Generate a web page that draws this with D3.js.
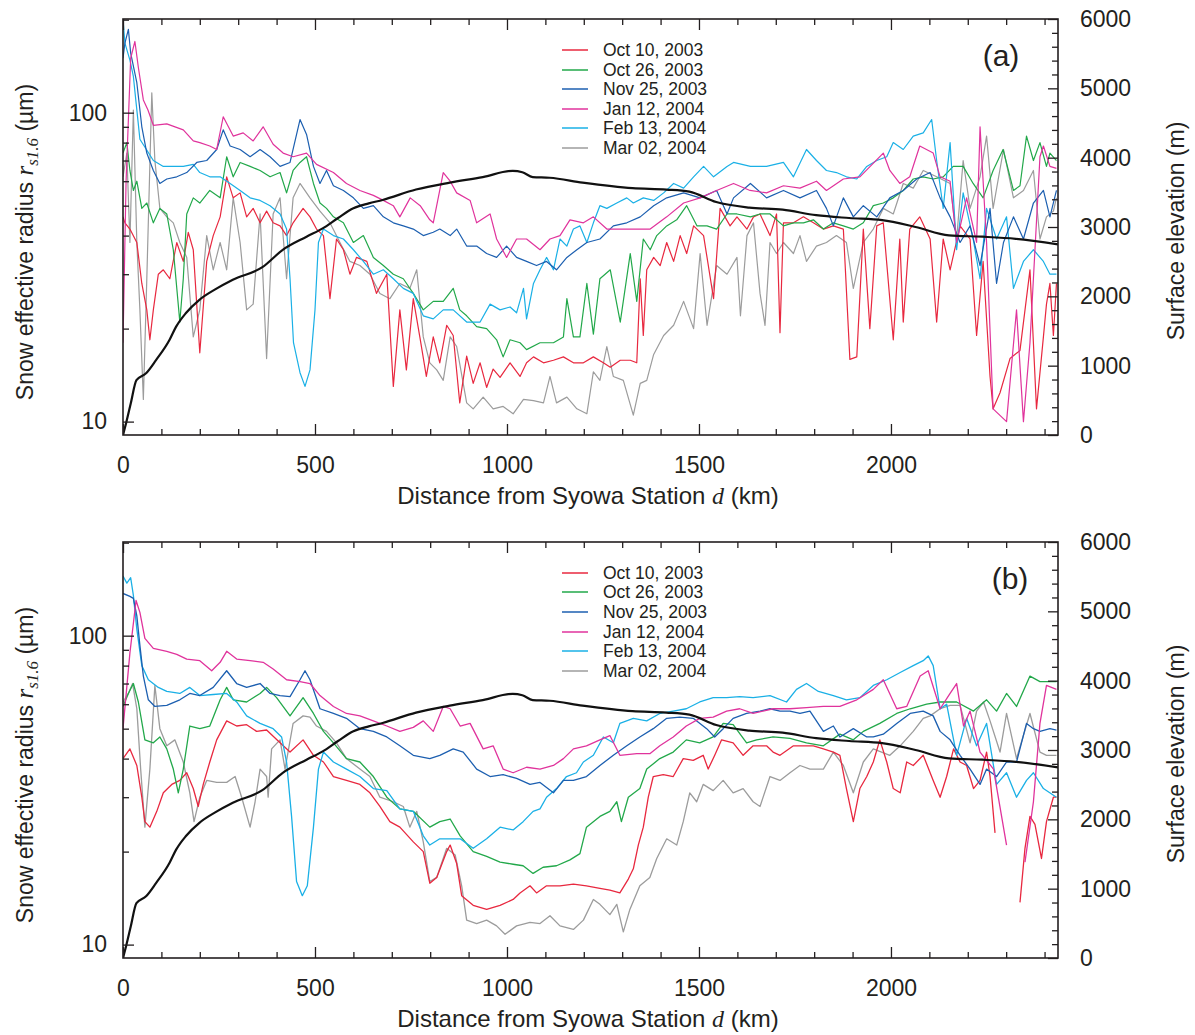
<!DOCTYPE html>
<html><head><meta charset="utf-8">
<script src="https://cdn.jsdelivr.net/npm/d3@7"></script>
<style>
body{margin:0;background:#fff}
svg{display:block}
text{font-family:"Liberation Sans",Arial,sans-serif;fill:#231f20}
</style>
</head><body>
<svg id="c" width="1195" height="1035"></svg>
<script>
// ---------- DATA (distance km, value) ----------
const seriesNames = ["Oct 10, 2003","Oct 26, 2003","Nov 25, 2003","Jan 12, 2004","Feb 13, 2004","Mar 02, 2004"];
const seriesColors = ["#e8283f","#22a84a","#1c5fb0","#e0339c","#1ab0e6","#9c9c9c"];
const xMajorTicks = [0,500,1000,1500,2000];
const yMajorTicks = [10,100];
const yMinorTicks = [20,30,40,50,60,70,80,90,200];
const elevTicks = [0,1000,2000,3000,4000,5000,6000];

const elevation = [[0,0],[8,170],[20,450],[35,790],[60,890],[86,1080],[121,1370],[138,1560],[164,1760],[199,1950],[240,2100],[286,2240],[363,2420],[416,2670],[478,2860],[520,2980],[560,3130],[600,3270],[640,3340],[676,3390],[763,3540],[851,3640],[937,3720],[1015,3810],[1040,3790],[1067,3720],[1111,3710],[1197,3640],[1327,3560],[1415,3540],[1475,3510],[1545,3360],[1631,3280],[1718,3250],[1805,3170],[1891,3130],[1977,3100],[2064,3000],[2151,2880],[2238,2860],[2325,2830],[2435,2750]];

// panel (a): original retrievals
const oct10a = [[0,46],[5,44],[18,42],[36,38],[49,28],[62,23],[70,18.4],[79,23],[92,30],[105,31],[122,29],[140,38],[157,33],[170,41],[183,36],[200,16.7],[218,33],[235,40],[253,46],[270,62],[287,53],[305,55],[322,46],[339,49],[357,44],[374,48],[391,44],[409,43],[426,40],[443,44],[469,49],[487,46],[504,42],[522,40],[539,25],[556,39],[574,36],[591,30],[608,34],[635,33],[660,26],[687,30],[704,13],[721,23],[738,14.7],[756,25],[773,18.8],[790,14],[808,18.8],[825,15.5],[843,20.5],[860,19],[877,11.5],[895,16.3],[912,13.3],[930,15.5],[947,12.9],[964,14.8],[982,13.9],[1008,15.5],[1034,14],[1051,15.5],[1069,16.2],[1095,15.5],[1121,15.8],[1147,16.2],[1173,15.5],[1199,15.5],[1225,16.2],[1251,15.5],[1269,15],[1295,15.8],[1321,15.8],[1338,15.5],[1347,29],[1355,19],[1364,31],[1382,34],[1399,32],[1416,38],[1434,33],[1451,40],[1468,35],[1486,43],[1512,40],[1538,25],[1555,49],[1581,43],[1599,46],[1625,42],[1642,46],[1659,47],[1685,40],[1702,47],[1711,19.4],[1720,44],[1746,44],[1772,46],[1798,44],[1824,42],[1850,43],[1876,42],[1893,15.9],[1911,16.2],[1928,42],[1945,20],[1963,43],[1980,44],[2006,18.4],[2023,39],[2032,21],[2049,42],[2075,46],[2102,39],[2119,21],[2136,39],[2154,31],[2180,43],[2206,39],[2223,19],[2240,33],[2258,14],[2266,11],[2284,12.4],[2310,16],[2336,17],[2362,31],[2379,11],[2397,18.8],[2405,24],[2414,28],[2423,19],[2431,28]];
const oct26a = [[0,74],[10,80],[18,65],[27,56],[36,60],[49,49],[62,51],[79,44],[96,49],[114,47],[131,36],[148,21],[157,29],[166,47],[183,53],[200,51],[226,56],[253,53],[270,72],[287,62],[305,69],[331,67],[357,65],[383,62],[409,64],[426,55],[443,65],[461,69],[478,72],[496,59],[513,51],[530,49],[548,46],[574,44],[600,38],[626,40],[652,34],[678,32],[704,30],[730,29],[756,26],[782,23],[808,24.5],[834,24.5],[860,27],[877,23],[895,22],[921,20.3],[947,20],[973,18.4],[990,16.2],[1008,18.4],[1034,18],[1051,17.1],[1086,18],[1121,18],[1147,18.8],[1156,25],[1173,18.8],[1190,18.8],[1208,28],[1225,19.2],[1242,29],[1269,31],[1295,21],[1321,35],[1338,24.5],[1355,39],[1373,36],[1390,40],[1416,43],[1442,45],[1468,50],[1495,43],[1521,43],[1546,42],[1573,47],[1599,47],[1634,46],[1659,47],[1685,47],[1720,43],[1746,44],[1772,44],[1798,45],[1824,42],[1850,44],[1876,43],[1902,42],[1928,44],[1954,50],[1980,51],[2006,53],[2032,56],[2058,61],[2084,62],[2110,61],[2136,62],[2162,67],[2188,67],[2214,59],[2240,53],[2266,65],[2292,76],[2319,56],[2336,58],[2353,84],[2371,70],[2388,80],[2405,67],[2414,74],[2431,70]];
const nov25a = [[0,150],[5,168],[14,186],[20,156],[36,125],[49,90],[62,74],[79,65],[96,59],[114,61],[140,62],[166,64],[192,69],[218,70],[244,76],[261,88],[279,78],[305,76],[331,72],[357,76],[383,72],[409,67],[435,69],[461,95],[478,85],[496,67],[513,59],[530,65],[548,58],[574,56],[600,53],[626,49],[652,50],[678,46],[704,44],[730,43],[756,42],[782,40],[808,41],[825,42],[852,40],[869,42],[895,37],[921,37],[947,35],[973,34],[999,37],[1025,34],[1051,33],[1077,32],[1103,33],[1129,31],[1156,34],[1182,36],[1208,38],[1242,39],[1277,43],[1312,44],[1347,46],[1382,50],[1416,53],[1460,55],[1503,53],[1546,56],[1573,47],[1590,53],[1634,59],[1676,53],[1720,56],[1763,53],[1806,56],[1832,49],[1850,43],[1876,53],[1902,46],[1928,50],[1963,46],[1997,53],[2032,56],[2067,61],[2102,64],[2128,53],[2154,46],[2180,38],[2206,43],[2232,32],[2258,49],[2275,28],[2293,38],[2319,46],[2345,39],[2371,51],[2397,56],[2414,46],[2431,56]];
const jan12a = [[0,18],[8,60],[20,150],[31,170],[40,140],[53,110],[65,102],[79,91],[114,92],[157,88],[183,81],[200,80],[226,78],[244,76],[261,97],[287,84],[313,86],[339,81],[365,90],[391,79],[417,74],[443,72],[478,74],[504,68],[548,64],[582,59],[617,56],[652,54],[678,52],[704,50],[721,46],[748,53],[774,50],[799,45],[808,44],[834,64],[852,60],[869,55],[904,52],[921,44],[956,47],[973,39],[999,34],[1025,39],[1051,39],[1086,36],[1112,39],[1138,40],[1164,45],[1199,44],[1225,46],[1260,42],[1295,42],[1329,42],[1373,42],[1416,46],[1460,51],[1503,53],[1546,56],[1590,59],[1633,56],[1676,55],[1720,58],[1763,57],[1806,60],[1832,56],[1876,61],[1919,62],[1980,74],[1997,65],[2023,59],[2049,62],[2075,78],[2110,74],[2128,62],[2154,60],[2171,38],[2197,53],[2223,38],[2232,90],[2249,38],[2266,11],[2301,10],[2327,23],[2345,10],[2362,18],[2388,72],[2397,78],[2414,67],[2431,66]];
const feb13a = [[0,200],[5,168],[18,148],[27,131],[35,105],[44,82],[61,76],[79,70],[105,67],[131,67],[157,67],[183,68],[200,64],[226,62],[253,62],[279,59],[305,56],[331,53],[357,52],[383,50],[409,47],[426,42],[435,29],[444,18],[461,14.4],[474,13],[487,14.7],[500,23],[509,38],[522,42],[548,40],[574,39],[600,36],[626,33],[652,30],[678,31],[704,29],[730,27],[756,26],[782,22],[808,21.5],[834,23],[860,23],[895,21],[930,21],[956,24],[982,23],[1008,23.5],[1025,22.5],[1043,27],[1051,21.5],[1069,28],[1086,31],[1103,34],[1121,31],[1138,39],[1156,37],[1173,42],[1190,43],[1208,38],[1225,44],[1242,50],[1260,49],[1286,51],[1312,53],[1329,51],[1355,53],[1382,52],[1408,55],[1434,59],[1460,57],[1486,62],[1512,67],[1538,62],[1573,67],[1590,69],[1634,67],[1676,67],[1720,69],[1746,62],[1780,76],[1806,70],[1832,65],[1858,64],[1884,62],[1911,61],[1937,67],[1963,70],[1989,72],[2006,80],[2032,76],[2058,84],[2084,86],[2106,95],[2119,70],[2136,49],[2154,80],[2171,36],[2188,55],[2214,39],[2232,29],[2249,49],[2275,39],[2301,46],[2319,27],[2345,33],[2371,36],[2397,33],[2414,30],[2431,30]];
const mar02a = [[0,62],[10,74],[18,38],[27,102],[36,38],[44,23],[53,11.8],[62,29],[75,116],[83,70],[96,49],[114,46],[131,44],[148,38],[166,34],[183,18.8],[200,23],[218,40],[235,31],[253,38],[270,31],[287,53],[305,38],[322,23],[339,24],[357,47],[374,16],[391,47],[409,53],[426,29],[443,53],[461,59],[487,53],[513,48],[539,44],[565,38],[591,33],[617,32],[643,30],[669,26],[695,25],[721,28],[747,27],[765,31],[782,18.8],[799,15.5],[817,14.7],[834,13.6],[852,18.8],[869,17.5],[895,11.5],[912,11],[938,12],[964,11],[990,11.2],[1016,10.6],[1043,11.8],[1069,11.7],[1095,11.5],[1112,14],[1129,11.5],[1156,12],[1182,11],[1208,10.6],[1225,14.5],[1242,13.6],[1260,17.5],[1277,14],[1303,13.6],[1329,10.5],[1347,13.3],[1364,13.6],[1382,16.5],[1408,19],[1434,20.5],[1460,24.5],[1486,20],[1503,35],[1521,20.5],[1546,32],[1573,30],[1599,34],[1608,22],[1625,40],[1642,44],[1659,26],[1672,20.5],[1685,38],[1702,35],[1720,38],[1746,35],[1763,40],[1780,33],[1806,37],[1832,38],[1858,40],[1884,38],[1902,27],[1928,38],[1954,42],[1980,49],[2006,47],[2032,59],[2058,57],[2084,65],[2119,62],[2154,59],[2171,39],[2188,70],[2206,49],[2232,62],[2249,84],[2266,49],[2293,76],[2319,53],[2345,56],[2371,65],[2388,39],[2405,46],[2423,48],[2431,53]];

// panel (b): smoothed retrievals
const oct10b = [[0,40],[18,43],[36,38],[49,30],[57,25],[70,24],[88,27],[105,31],[127,33],[148,34],[166,36],[183,32],[196,28],[209,33],[226,39],[244,46],[270,53],[296,51],[322,51.5],[348,49],[374,49.5],[409,45],[435,42],[469,46],[496,41],[522,39],[548,35],[582,34],[617,33],[643,31],[669,28],[695,25],[721,24],[756,21.5],[782,20],[799,15.8],[817,16.5],[843,20],[852,21],[869,18.3],[882,14.4],[912,13.4],[947,13],[982,13.4],[1016,14],[1034,14.7],[1060,15.5],[1077,14.7],[1103,15.5],[1138,15.5],[1173,15.7],[1207,15.5],[1242,15.2],[1268,15],[1294,14.7],[1316,16.3],[1329,17.6],[1342,21],[1355,24],[1368,30],[1381,35],[1407,35.5],[1433,35],[1459,40],[1485,39.5],[1511,41],[1524,37],[1541,41],[1559,46],[1589,45],[1615,41],[1641,44],[1676,44],[1693,42],[1711,41],[1746,44],[1798,44],[1824,43],[1850,42],[1867,41],[1884,32],[1902,25],[1919,32],[1937,35],[1954,39],[1971,46],[1989,39],[2006,32],[2024,31],[2041,39],[2058,38],[2084,41],[2110,34],[2128,30],[2145,35],[2163,43],[2180,39],[2197,38],[2215,32],[2232,34],[2249,42],[2258,35],[2271,23],[2300,null],[2336,13.7],[2349,20.5],[2362,26],[2375,24.5],[2392,19],[2405,25],[2423,30],[2431,30]];
const oct26b = [[0,59],[14,65],[27,70],[40,61],[57,46],[79,45],[96,47],[114,43],[131,37],[144,31],[157,37],[174,51],[200,50],[226,51],[253,62],[270,68],[287,62],[322,61],[357,65],[374,68],[400,63],[435,55],[469,63],[496,56],[522,49],[548,45],[582,40],[617,39],[652,35],[687,30],[721,27.5],[756,27],[799,24],[825,25],[852,25.5],[878,22.5],[912,20],[947,19.3],[982,18.5],[1016,18.2],[1042,18],[1068,17],[1094,17.8],[1129,18],[1164,18.8],[1190,19.7],[1207,24],[1242,26],[1268,27],[1286,29],[1298,25],[1316,30],[1346,32],[1364,37],[1398,40],[1433,42],[1467,46],[1502,45],[1537,47],[1563,52],[1589,51.5],[1624,45],[1650,46],[1693,47],[1737,46.5],[1780,45],[1824,44],[1867,48],[1902,46],[1928,49],[1971,52],[2015,56],[2050,58],[2093,60],[2128,61],[2171,61],[2215,57],[2249,62],[2275,57],[2301,65],[2327,59],[2362,74],[2388,71],[2431,71]];
const nov25b = [[0,137],[18,134],[27,132],[36,116],[44,93],[53,74],[66,62],[83,59],[114,59.5],[148,62],[174,65],[200,64],[235,68],[270,77],[296,70],[322,68],[357,70],[383,65],[409,64],[435,63.5],[461,72],[474,77],[487,72],[513,58],[548,56],[582,54],[617,50],[652,49],[687,47],[721,44],[756,41],[799,40],[825,41],[860,43],[886,42],[921,37],[956,35],[990,35.5],[1025,34.5],[1060,33],[1086,33.5],[1121,31],[1147,34],[1173,34],[1207,35],[1242,38],[1277,41],[1312,44],[1346,47],[1381,50],[1416,54],[1450,54.5],[1485,54],[1520,50],[1541,47],[1563,50],[1589,54],[1624,56],[1659,57],[1685,58],[1711,57],[1737,57],[1763,56],[1789,57],[1824,49],[1850,51],[1867,47],[1902,50],[1937,47],[1954,47],[1980,48],[2015,52],[2050,56],[2084,57],[2110,55],[2128,49],[2154,46],[2180,41],[2206,37],[2232,33],[2249,37],[2275,35],[2301,39],[2327,39],[2353,52],[2371,50],[2388,49],[2414,50],[2431,49.5]];
const jan12b = [[0,50],[18,88],[34,130],[44,119],[57,98],[79,91],[114,89],[140,87],[166,84],[200,83],[231,77],[253,82],[270,89],[296,84],[331,83],[365,82],[391,78],[426,72],[461,71],[487,70],[513,64],[548,59],[582,56],[617,55],[652,53],[687,51],[721,49],[756,50.5],[782,53],[808,49],[834,59],[852,58],[878,51],[904,52],[938,43],[964,44],[990,37],[1016,36],[1051,37.5],[1086,37],[1121,38],[1147,40],[1173,43],[1207,44],[1242,46],[1268,47.5],[1294,41],[1338,41.5],[1372,41.5],[1398,44],[1433,47],[1467,51],[1502,54],[1537,54.5],[1572,57],[1606,58],[1641,56],[1693,58],[1737,58],[1780,58.5],[1824,59],[1867,59],[1911,62],[1954,67],[1980,72],[2015,58],[2041,59],[2076,74],[2097,77],[2128,58],[2154,65],[2171,70],[2189,51],[2206,57],[2232,42],[2267,37],[2301,21],[2320,null],[2349,18.5],[2371,29],[2388,52],[2405,69],[2431,67]];
const feb13b = [[0,156],[10,148],[20,154],[27,135],[36,105],[49,80],[66,72],[92,68],[114,66],[148,65],[174,68],[200,64],[235,64.5],[270,65],[296,61],[322,55],[357,52],[391,50],[413,47],[426,39],[439,26],[452,16],[467,14.4],[480,15.5],[496,24],[509,37],[522,42],[548,39],[582,37],[617,35],[652,32],[687,31.5],[721,27.5],[756,27],[782,22.5],[799,21],[825,22],[852,22],[878,22],[912,20.5],[947,22],[982,24],[1016,23.5],[1042,25],[1068,27],[1086,27.5],[1103,30],[1129,32],[1155,35],[1181,36],[1199,39],[1225,41],[1251,47],[1277,45],[1294,52],[1329,54],[1364,53],[1398,56],[1433,57],[1467,58],[1502,61],[1537,63],[1572,63],[1606,63.5],[1641,63],[1685,64],[1728,61],[1754,67],[1780,70],[1811,66],[1850,64],[1884,62],[1919,63],[1954,69],[1989,72],[2024,76],[2058,80],[2084,83],[2097,86],[2110,80],[2128,58],[2145,60],[2171,41],[2197,54],[2223,44],[2249,52],[2275,33],[2301,36],[2327,30],[2353,34],[2371,36],[2397,32],[2431,30]];
const mar02b = [[0,61],[14,65],[25,70],[36,58],[46,37],[57,24],[70,37],[83,69],[96,50],[114,44],[135,46],[157,39],[174,31],[185,25],[200,30],[218,34],[244,33.5],[270,33.5],[292,35],[309,30],[331,24],[344,29],[357,37],[374,35],[378,30],[387,43],[409,46],[422,37],[443,52],[469,55],[487,54.5],[504,51],[530,49],[556,45],[582,40],[617,37],[643,35],[669,30],[704,29],[730,28],[747,24],[765,27],[782,21.5],[799,16],[817,16.5],[843,20.5],[865,19.5],[882,15.5],[895,12],[921,11.7],[947,12],[973,11.5],[995,10.8],[1025,11.5],[1060,11.8],[1086,11.7],[1112,12.4],[1138,11.5],[1173,11.2],[1199,12],[1225,14],[1242,13.5],[1268,12.5],[1286,13.5],[1303,11],[1320,13],[1346,15.5],[1372,16.5],[1390,19],[1416,22],[1442,21],[1459,25],[1476,31],[1494,29],[1511,33],[1537,31.5],[1563,34],[1589,31],[1615,32],[1641,29],[1659,28],[1685,35],[1711,34],[1737,36],[1763,38],[1789,37],[1824,37],[1850,42],[1876,38],[1902,31],[1928,39],[1954,43],[1997,41],[2024,44],[2058,49],[2084,54],[2102,55],[2128,58],[2154,59.5],[2180,59.5],[2206,45],[2223,57],[2241,61],[2258,53],[2284,42],[2301,56],[2327,40],[2362,56],[2388,42],[2405,41],[2431,41]];

// ---------- DRAWING ----------
const svg = d3.select("#c");
const X0 = 123, X1 = 1058;
const x = d3.scaleLinear().domain([0, 2435]).range([X0, X1]);
const xMinorTicks = d3.range(100, 2435, 100).filter(v => v % 500 !== 0);
const elevMinorTicks = d3.range(200, 6000, 200).filter(v => v % 1000 !== 0);

function styleAxis(g) {
  g.select(".domain").remove();
  g.selectAll(".tick line").attr("stroke", "#231f20").attr("stroke-width", 1.3);
  g.selectAll(".tick text").attr("font-size", 23).attr("fill", "#231f20")
    .attr("font-family", '"Liberation Sans",Arial,sans-serif');
}

function drawPanel(top, bottom, series, tag, legendYs, lw) {
  const y = d3.scaleLog().domain([9.05, 201]).range([bottom, top]);
  const ye = d3.scaleLinear().domain([0, 6000]).range([bottom, top]);
  const cid = "clip" + tag;
  svg.append("clipPath").attr("id", cid).append("rect")
    .attr("x", X0).attr("y", top).attr("width", X1 - X0).attr("height", bottom - top);
  const plot = svg.append("g").attr("clip-path", `url(#${cid})`);
  const line = d3.line().defined(d => d[1] != null).x(d => x(d[0])).y(d => y(d[1]));
  const order = [5, 0, 1, 4, 2, 3];
  order.forEach(i => {
    plot.append("path").datum(series[i]).attr("d", line)
      .attr("fill", "none").attr("stroke", seriesColors[i])
      .attr("stroke-width", lw).attr("stroke-linejoin", "round");
  });
  plot.append("path").datum(elevation)
    .attr("d", d3.line().curve(d3.curveMonotoneX).x(d => x(d[0])).y(d => ye(d[1])))
    .attr("fill", "none").attr("stroke", "#111").attr("stroke-width", 2.2);

  // axes
  svg.append("g").attr("transform", `translate(0,${bottom})`)
    .call(d3.axisBottom(x).tickValues(xMajorTicks).tickSizeInner(-11).tickSizeOuter(0).tickPadding(22).tickFormat(d3.format("d")))
    .call(styleAxis);
  svg.append("g").attr("transform", `translate(0,${bottom})`)
    .call(d3.axisBottom(x).tickValues(xMinorTicks).tickSizeInner(-6).tickSizeOuter(0).tickFormat(""))
    .call(styleAxis);
  svg.append("g").attr("transform", `translate(0,${top})`)
    .call(d3.axisTop(x).tickValues(xMajorTicks).tickSizeInner(-11).tickSizeOuter(0).tickFormat(""))
    .call(styleAxis);
  svg.append("g").attr("transform", `translate(0,${top})`)
    .call(d3.axisTop(x).tickValues(xMinorTicks).tickSizeInner(-6).tickSizeOuter(0).tickFormat(""))
    .call(styleAxis);
  svg.append("g").attr("transform", `translate(${X0},0)`)
    .call(d3.axisLeft(y).tickValues(yMajorTicks).tickSizeInner(-11).tickSizeOuter(0).tickPadding(16).tickFormat(d3.format("d")))
    .call(styleAxis);
  svg.append("g").attr("transform", `translate(${X0},0)`)
    .call(d3.axisLeft(y).tickValues(yMinorTicks).tickSizeInner(-6).tickSizeOuter(0).tickFormat(""))
    .call(styleAxis);
  svg.append("g").attr("transform", `translate(${X1},0)`)
    .call(d3.axisRight(ye).tickValues(elevTicks).tickSizeInner(-10).tickSizeOuter(0).tickPadding(22).tickFormat(d3.format("d")))
    .call(styleAxis);
  svg.append("g").attr("transform", `translate(${X1},0)`)
    .call(d3.axisRight(ye).tickValues(elevMinorTicks).tickSizeInner(-6).tickSizeOuter(0).tickFormat(""))
    .call(styleAxis);

  svg.append("rect").attr("x", X0).attr("y", top).attr("width", X1 - X0).attr("height", bottom - top)
    .attr("fill", "none").attr("stroke", "#231f20").attr("stroke-width", 1.6);

  // legend
  seriesNames.forEach((n, i) => {
    svg.append("line").attr("x1", 562).attr("x2", 588).attr("y1", legendYs[i]).attr("y2", legendYs[i])
      .attr("stroke", seriesColors[i]).attr("stroke-width", 1.5);
    svg.append("text").attr("x", 603).attr("y", legendYs[i] + 6).attr("font-size", 17.5).text(n);
  });

  // panel tag
  svg.append("text").attr("x", tag === "a" ? 1001 : 1010).attr("y", top + 47)
    .attr("text-anchor", "middle").attr("font-size", 30).text(`(${tag})`);

  // x title
  const xt = svg.append("text").attr("x", 588).attr("y", bottom + 69).attr("text-anchor", "middle").attr("font-size", 24);
  xt.append("tspan").text("Distance from Syowa Station ");
  xt.append("tspan").attr("font-family", '"Liberation Serif",serif').attr("font-style", "italic").text("d");
  xt.append("tspan").text(" (km)");

  // left title
  const mid = (top + bottom) / 2;
  const lt = svg.append("text").attr("transform", `translate(33,${mid + 15}) rotate(-90)`)
    .attr("text-anchor", "middle").attr("font-size", 23);
  lt.append("tspan").text("Snow effective radius ");
  lt.append("tspan").attr("font-family", '"Liberation Serif",serif').attr("font-style", "italic").attr("font-size", 25).text("r");
  lt.append("tspan").attr("font-family", '"Liberation Serif",serif').attr("font-style", "italic").attr("font-size", 17).attr("dy", 5).text("s1.6");
  lt.append("tspan").attr("dy", -5).text(" (\u00b5m)");

  // right title
  svg.append("text").attr("transform", `translate(1184,${mid + 4}) rotate(-90)`)
    .attr("text-anchor", "middle").attr("font-size", 23).text("Surface elevation (m)");
}

drawPanel(19, 435, [oct10a, oct26a, nov25a, jan12a, feb13a, mar02a], "a", [50, 70, 89, 109, 128, 148], 1.2);
drawPanel(542, 958, [oct10b, oct26b, nov25b, jan12b, feb13b, mar02b], "b", [573, 592, 612, 632, 651, 671], 1.3);
</script>
</body></html>
